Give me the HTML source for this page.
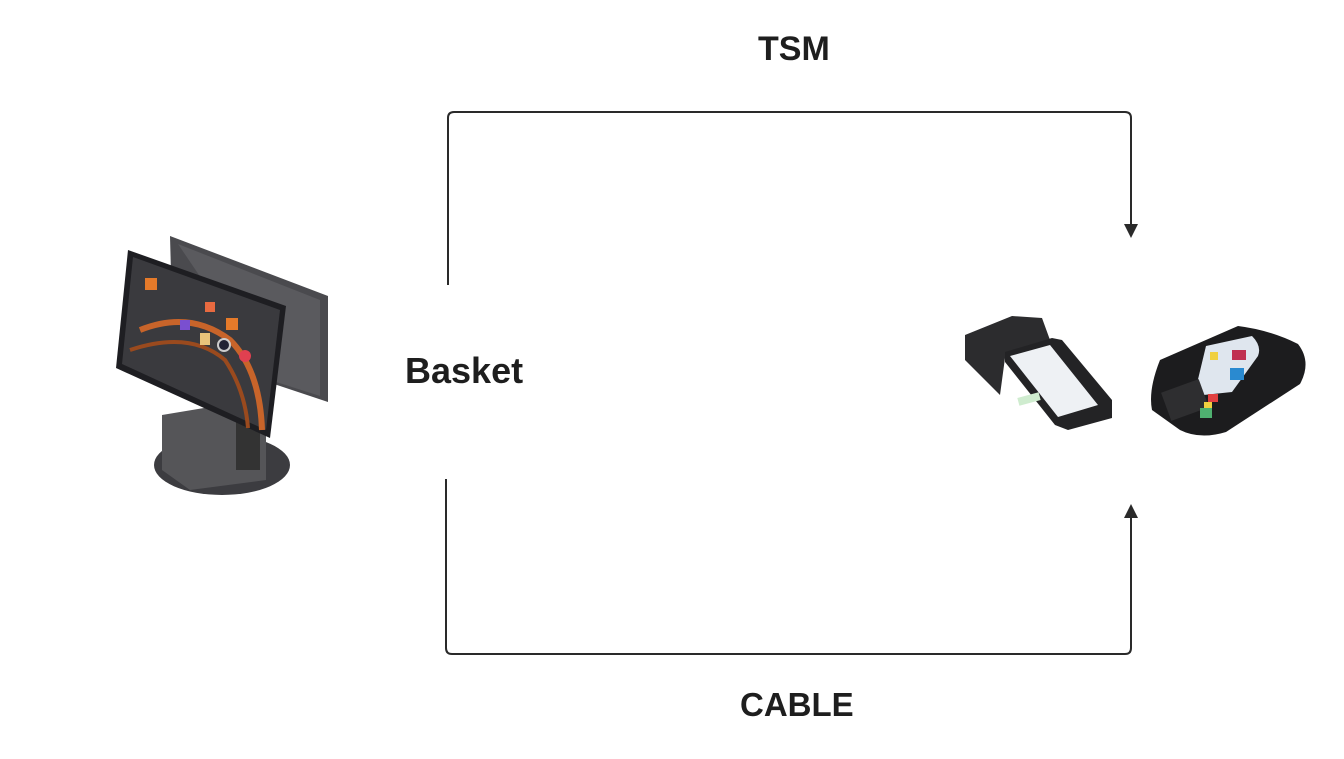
<!DOCTYPE html>
<html><head><style>
html,body{margin:0;padding:0;background:#fff;width:1344px;height:759px;overflow:hidden;}
.t{position:absolute;font-family:"Liberation Sans",sans-serif;font-weight:bold;color:#1e1e1e;}
</style></head><body>
<svg width="1344" height="759" style="position:absolute;left:0;top:0">
<g fill="none" stroke="#2a2a2a" stroke-width="2">
<path d="M448 285 V118 Q448 112 454 112 H1125 Q1131 112 1131 118 V228"/>
<path d="M446 479 V648 Q446 654 452 654 H1125 Q1131 654 1131 648 V514"/>
</g>
<polygon points="1124,224 1138,224 1131,238" fill="#2a2a2a"/>
<polygon points="1124,518 1138,518 1131,504" fill="#2a2a2a"/>
<!-- POS terminal -->
<polygon points="170,236 328,296 328,402 268,382 172,310" fill="#4a4a4e"/>
<polygon points="178,244 320,300 320,396 270,380" fill="#5a5a5e"/>
<ellipse cx="222" cy="465" rx="68" ry="30" fill="#3c3c40"/>
<path d="M162 415 L240 402 L266 420 L266 480 L190 490 L162 470 Z" fill="#555558"/>
<rect x="236" y="400" width="24" height="70" fill="#333"/>
<polygon points="128,250 286,306 270,438 116,368" fill="#1e1e22"/>
<polygon points="133,257 280,310 266,430 122,364" fill="#3a3a3e"/>
<path d="M140 330 Q190 310 230 340 Q260 370 262 430" stroke="#c8642a" stroke-width="6" fill="none"/>
<path d="M130 350 Q190 330 225 360 Q245 390 248 428" stroke="#9a4a1e" stroke-width="4" fill="none"/>
<rect x="145" y="278" width="12" height="12" fill="#e57a2a"/>
<rect x="180" y="320" width="10" height="10" fill="#7a4fd0"/>
<rect x="200" y="333" width="10" height="12" fill="#e9c37a"/>
<rect x="205" y="302" width="10" height="10" fill="#e86a40"/>
<rect x="226" y="318" width="12" height="12" fill="#e57a2a"/>
<circle cx="245" cy="356" r="6" fill="#e04050"/>
<circle cx="224" cy="345" r="6" fill="#223" stroke="#ccc" stroke-width="2"/>
<!-- handheld terminal -->
<polygon points="965,335 1012,316 1042,318 1050,340 1005,358 1000,395 965,360" fill="#2c2c2e"/>
<polygon points="1005,352 1052,338 1062,340 1112,400 1112,418 1068,430 1055,425 1005,362" fill="#232325"/>
<polygon points="1010,356 1050,345 1098,405 1058,417" fill="#eef1f4"/>
<rect x="1018" y="395" width="22" height="8" fill="#cfeccf" transform="rotate(-15 1029 399)"/>
<!-- countertop terminal -->
<path d="M1160 360 L1238 326 Q1270 330 1298 344 Q1312 362 1300 384 L1226 432 Q1200 440 1180 430 L1152 410 Q1148 390 1160 360Z" fill="#1c1c1e"/>
<path d="M1206 346 L1252 336 Q1262 346 1258 356 L1232 392 L1194 396 Z" fill="#dfe6ee"/>
<rect x="1210" y="352" width="8" height="8" fill="#f0d040"/>
<rect x="1232" y="350" width="14" height="10" fill="#c03050"/>
<rect x="1230" y="368" width="14" height="12" fill="#2a8ad0"/>
<rect x="1165" y="385" width="40" height="30" fill="#2e2e30" transform="rotate(-20 1185 400)"/>
<rect x="1200" y="408" width="12" height="10" fill="#4fb070"/>
<rect x="1208" y="394" width="10" height="8" fill="#e04040"/>
<rect x="1204" y="402" width="8" height="6" fill="#f0d040"/>
</svg>
<div class="t" style="left:758px;top:30px;font-size:34px;">TSM</div>
<div class="t" style="left:405px;top:350px;font-size:36px;">Basket</div>
<div class="t" style="left:740px;top:686px;font-size:33px;">CABLE</div>
</body></html>
